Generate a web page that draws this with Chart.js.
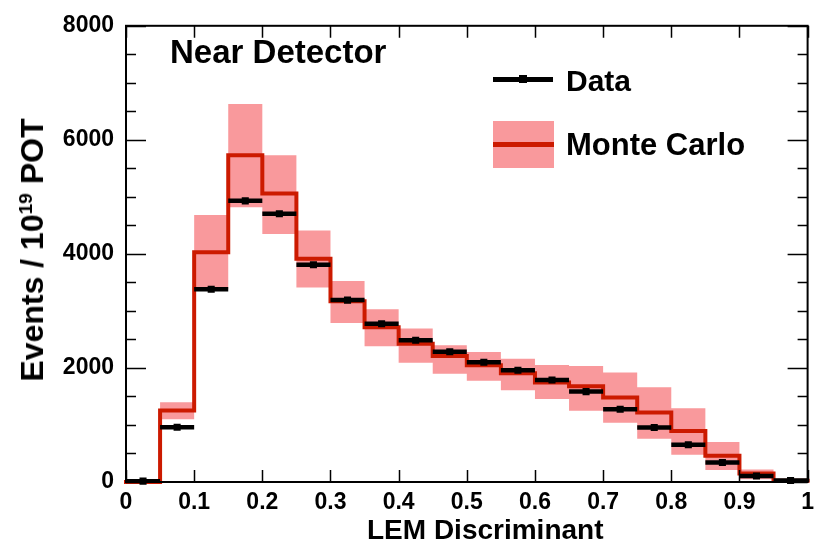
<!DOCTYPE html>
<html>
<head>
<meta charset="utf-8">
<title>LEM Discriminant - Near Detector</title>
<script src="https://cdn.jsdelivr.net/npm/chart.js@4.4.1/dist/chart.umd.min.js"></script>
<style>
  html, body { margin: 0; padding: 0; background: #fff; }
  #wrap { position: relative; width: 821px; height: 548px; overflow: hidden;
          font-family: "Liberation Sans", Arial, Helvetica, sans-serif; font-weight: bold; color: #000; }
  #stage { position: absolute; left: 0; top: 0; }
  .txt { position: absolute; white-space: nowrap; line-height: 1; }
  #near { left: 170px; top: 35px; font-size: 33px; }
  #xtitle { left: 367px; top: 516px; font-size: 28px; }
  #ytitle { left: 32px; top: 250px; font-size: 32px; transform: translate(-50%, -50%) rotate(-90deg); }
  #ytitle sup { font-size: 60%; vertical-align: 0; position: relative; top: -0.55em; }
  .legline { position: absolute; left: 493px; top: 77px; width: 60px; height: 5px; background: #000; }
  .legmark { position: absolute; left: 519px; top: 75px; width: 8px; height: 8px; background: #000; }
  .legbox { position: absolute; left: 493px; top: 121px; width: 61px; height: 47px; background: #f9999c; }
  .legred { position: absolute; left: 493px; top: 142px; width: 61px; height: 5px; background: #cc1a00; }
  #legData { left: 566px; top: 66px; font-size: 30px; }
  #legMC { left: 566px; top: 129px; font-size: 31px; }
</style>
</head>
<body>
<div id="wrap">
  <canvas id="stage" width="821" height="548"></canvas>
  <div class="txt" id="near">Near Detector</div>
  <div class="txt" id="xtitle">LEM Discriminant</div>
  <div class="txt" id="ytitle">Events / 10<sup>19</sup> POT</div>
  <div class="legline"></div><div class="legmark"></div>
  <div class="txt" id="legData">Data</div>
  <div class="legbox"></div><div class="legred"></div>
  <div class="txt" id="legMC">Monte Carlo</div>
</div>
<script>
// 20 bins of LEM discriminant, 0 -> 1
var binStart = 0;
var binWidth = 0.05;

var dataValues = [15, 960, 3380, 4930, 4705, 3810, 3190, 2775, 2485, 2285,
                  2100, 1960, 1790, 1585, 1275, 957, 652, 343, 104, 25];

var mcValues = [0, 1255, 4030, 5730, 5060, 3915, 3170, 2715, 2425, 2210,
                2048, 1905, 1745, 1680, 1480, 1220, 895, 460, 150, 20];

// MC systematic band
var mcHigh = [0, 1400, 4680, 6630, 5730, 4410, 3525, 3030, 2690, 2400,
              2280, 2160, 2050, 2035, 1920, 1660, 1295, 700, 220, 40];
var mcLow  = [0, 1100, 3380, 4820, 4350, 3410, 2790, 2380, 2090, 1900,
              1775, 1610, 1455, 1250, 1040, 760, 480, 210, 50, 5];

var xTickLabels = ['0', '0.1', '0.2', '0.3', '0.4', '0.5', '0.6', '0.7', '0.8', '0.9', '1'];
var yTickLabels = ['0', '2000', '4000', '6000', '8000'];

var FONT = '"Liberation Sans", Arial, Helvetica, sans-serif';

function edge(i) { return binStart + i * binWidth; }

// points for a stepped histogram outline (horizontal first, then the step)
function stepPoints(vals) {
  var pts = vals.map(function(v, i) { return {x: edge(i), y: v}; });
  pts.push({x: edge(vals.length), y: vals[vals.length - 1]});
  return pts;
}

// horizontal error bars for data (bin width), broken with gaps
var dataBars = [];
dataValues.forEach(function(v, i) {
  dataBars.push({x: edge(i), y: v});
  dataBars.push({x: edge(i + 1), y: v});
  dataBars.push({x: edge(i + 1), y: null});
});

var dataMarks = dataValues.map(function(v, i) {
  return {x: edge(i) + binWidth / 2, y: v};
});

// ROOT style frame with inward ticks
var framePlugin = {
  id: 'frame',
  afterDatasetsDraw: function(chart) {
    var ctx = chart.ctx;
    var a = chart.chartArea;
    var xs = chart.scales.x, ys = chart.scales.y;
    ctx.save();
    ctx.strokeStyle = '#000';
    ctx.lineWidth = 1.5;
    ctx.beginPath();
    for (var v = ys.min; v <= ys.max; v += 500) {
      var y = Math.round(ys.getPixelForValue(v)) + 0.5;
      var len = (v % 2000 === 0) ? 20 : 10;
      ctx.moveTo(a.left, y); ctx.lineTo(a.left + len, y);
      ctx.moveTo(a.right, y); ctx.lineTo(a.right - len, y);
    }
    for (var i = 0; i < xTickLabels.length; i++) {
      var x = Math.round(xs.getPixelForValue(i / 10)) + 0.5;
      ctx.moveTo(x, a.bottom); ctx.lineTo(x, a.bottom - 12);
      ctx.moveTo(x, a.top); ctx.lineTo(x, a.top + 12);
    }
    ctx.stroke();
    ctx.lineWidth = 2;
    ctx.strokeRect(a.left, a.top, a.right - a.left, a.bottom - a.top);
    ctx.restore();
  }
};

var canvas = document.getElementById('stage');
var chart = new Chart(canvas, {
  type: 'line',
  data: {
    datasets: [
      { // band low edge
        data: stepPoints(mcLow), stepped: 'before', borderWidth: 0, pointRadius: 0,
        fill: false, order: 5
      },
      { // band high edge, filled down to low edge
        data: stepPoints(mcHigh), stepped: 'before', borderWidth: 0, pointRadius: 0,
        fill: '-1', backgroundColor: '#f9999c', order: 5
      },
      { // Monte Carlo
        data: stepPoints(mcValues), stepped: 'before', borderColor: '#cc1a00', borderWidth: 4,
        pointRadius: 0, fill: false, order: 3, clip: 4, borderCapStyle: 'square'
      },
      { // data x-errors
        data: dataBars, borderColor: '#000', borderWidth: 4.5, pointRadius: 0,
        spanGaps: false, fill: false, order: 2
      },
      { // data markers
        data: dataMarks, showLine: false, pointStyle: 'rect', pointRadius: 5,
        pointBackgroundColor: '#000', pointBorderColor: '#000', pointBorderWidth: 0, order: 1, clip: 6
      }
    ]
  },
  options: {
    responsive: false,
    animation: false,
    layout: { padding: { top: 22, right: 6, left: 0, bottom: 0 } },
    plugins: { legend: { display: false }, tooltip: { enabled: false } },
    scales: {
      x: {
        type: 'linear', min: 0, max: 1,
        grid: { display: false, drawTicks: false },
        border: { display: false },
        ticks: {
          stepSize: 0.1, padding: 7, color: '#000', maxRotation: 0, autoSkip: false,
          font: { family: FONT, size: 23, weight: 'bold' },
          callback: function(v) { return xTickLabels[Math.round(v * 10)]; }
        },
        afterFit: function(s) { s.height = 66; }
      },
      y: {
        min: 0, max: 8000,
        grid: { display: false, drawTicks: false },
        border: { display: false },
        ticks: {
          stepSize: 2000, padding: 12, color: '#000',
          font: { family: FONT, size: 23, weight: 'bold' },
          callback: function(v) { return yTickLabels[Math.round(v / 2000)]; }
        },
        afterFit: function(s) { s.width = 126; }
      }
    }
  },
  plugins: [framePlugin]
});
</script>
</body>
</html>
